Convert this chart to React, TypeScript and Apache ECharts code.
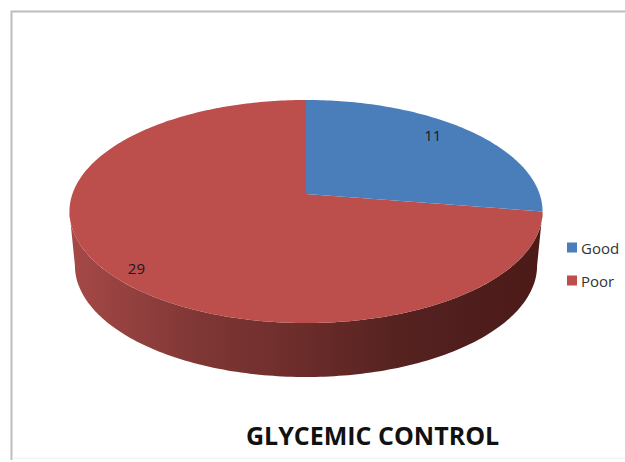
import React, { useEffect, useRef } from "react";
import * as echarts from "echarts";

// Glycemic control split, drawn as a tilted 3D pie.
const categories = ["Good", "Poor"];
const counts = [11, 29];
const sliceColors = ["#4a7ebb", "#bc4e4b"];
const titleText = "GLYCEMIC CONTROL";

const WIDTH = 625;
const HEIGHT = 462;

// Projection of the pie disc: a circle seen in perspective.
const APEX_X = 306;
const APEX_Y = 194;
const SPREAD_X = 233.6;
const SPREAD_Y = 78.3;
const PERSPECTIVE = 0.157;
const DEPTH = 54;
const BASE_SHRINK = 0.977;

const labelPlacement = [
  { radius: 0.77, dy: -9 },
  { radius: 0.87, dy: 7 },
];

const total = counts.reduce((a, b) => a + b, 0);

function project(angle: number, radius: number): [number, number] {
  const u = Math.sin(angle) * radius;
  const v = Math.cos(angle) * radius;
  const d = 1 + PERSPECTIVE * v;
  return [APEX_X + (SPREAD_X * u) / d, (APEX_Y - SPREAD_Y * v) / d];
}

function projectBase(angle: number): [number, number] {
  const [x, y] = project(angle, 1);
  return [APEX_X + (x - APEX_X) * BASE_SHRINK, y + DEPTH];
}

function arcPoints(from: number, to: number, map: (a: number) => [number, number]) {
  const steps = Math.max(2, Math.ceil(Math.abs(to - from) / (Math.PI / 180)));
  const pts: [number, number][] = [];
  for (let i = 0; i <= steps; i++) pts.push(map(from + ((to - from) * i) / steps));
  return pts;
}

// The wall is visible between the rim's two horizontal extremes.
const wallStart = Math.acos(-PERSPECTIVE);
const wallEnd = 2 * Math.PI - wallStart;

const wallFill = new echarts.graphic.LinearGradient(0, 0, 1, 0, [
  { offset: 0, color: "#a64947" },
  { offset: 0.27, color: "#7f3735" },
  { offset: 0.5, color: "#6b2c2a" },
  { offset: 0.7, color: "#552220" },
  { offset: 0.85, color: "#4f1e1c" },
  { offset: 1, color: "#4c1b18" },
]);

function makeSliceSeries(index: number) {
  const before = counts.slice(0, index).reduce((a, b) => a + b, 0);
  return {
    type: "custom",
    name: categories[index],
    coordinateSystem: "none",
    itemStyle: { color: sliceColors[index] },
    data: [[counts[index]]],
    z: index === 0 ? 3 : 2,
    renderItem: (_params: unknown, api: any) => {
      const value = api.value(0) as number;
      const start = (before / total) * 2 * Math.PI;
      const end = ((before + value) / total) * 2 * Math.PI;
      const children: any[] = [];

      const from = Math.max(start, wallStart);
      const to = Math.min(end, wallEnd);
      if (to > from) {
        const top = arcPoints(from, to, (a) => project(a, 1));
        const base = arcPoints(from, to, projectBase).reverse();
        children.push({
          type: "polygon",
          shape: { points: [...top, ...base] },
          style: { fill: wallFill },
        });
      }

      children.push({
        type: "polygon",
        shape: {
          points: [
            project(0, 0),
            ...arcPoints(start, end, (a) => project(a, 1)),
          ],
        },
        style: { fill: sliceColors[index] },
      });

      const mid = (start + end) / 2;
      const place = labelPlacement[index];
      const [lx, ly] = project(mid, place.radius);
      children.push({
        type: "text",
        x: lx,
        y: ly + place.dy,
        style: {
          text: String(value),
          fill: "#1a1a1a",
          font: '15px "Open Sans"',
          align: "center",
          verticalAlign: "middle",
        },
      });
      return { type: "group", children };
    },
  };
}

export default function App() {
  const ref = useRef<HTMLDivElement>(null);

  useEffect(() => {
    if (!ref.current) return;
    const chart = echarts.init(ref.current, undefined, { renderer: "svg" });
    chart.setOption({
      animation: false,
      backgroundColor: "#ffffff",
      title: {
        text: titleText,
        left: 246,
        top: 422,
        textStyle: {
          fontFamily: "Open Sans",
          fontSize: 25,
          fontWeight: "bold",
          color: "#111111",
        },
        padding: 0,
      },
      legend: {
        orient: "vertical",
        left: 567,
        top: 240,
        itemWidth: 10,
        itemHeight: 10,
        itemGap: 18,
        icon: "rect",
        padding: 0,
        data: categories,
        textStyle: {
          fontFamily: "Open Sans",
          fontSize: 15,
          color: "#333333",
          padding: [0, 0, 0, -1],
        },
      },
      graphic: [
        {
          type: "polyline",
          shape: { points: [[11.5, 460], [11.5, 11.5], [625, 11.5]] },
          style: { stroke: "#bdbdbd", lineWidth: 2, fill: "none" },
        },
        {
          type: "line",
          shape: { x1: 12, y1: 458, x2: 625, y2: 458 },
          style: { stroke: "#eeeeee", lineWidth: 1 },
        },
      ],
      series: [makeSliceSeries(1), makeSliceSeries(0)],
    });
    return () => chart.dispose();
  }, []);

  return (
    <div
      ref={ref}
      style={{ position: "fixed", left: 0, top: 0, width: WIDTH, height: HEIGHT }}
    />
  );
}
